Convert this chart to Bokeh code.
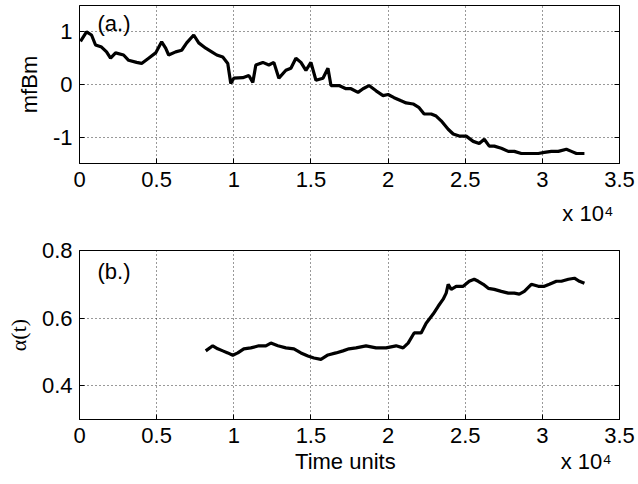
from bokeh.plotting import figure
from bokeh.layouts import column
from bokeh.models import Range1d, FixedTicker, CustomJSTickFormatter, LinearAxis, Label
from bokeh.embed import file_html
from bokeh.resources import INLINE

# --- data (time units) ---
t_mfbm = [65, 455, 779, 1039, 1429, 1753, 2013, 2338, 2857, 3182, 3701, 4026, 4481, 4935,
          5325, 5584, 5779, 6234, 6623, 6948, 7403, 7727, 8182, 8571, 8896, 9286, 9610,
          9805, 10000, 10584, 10974, 11234, 11429, 11883, 12273, 12597, 12922, 13377,
          13701, 14026, 14351, 14675, 15000, 15325, 15779, 16104, 16299, 16818, 17273,
          17597, 18052, 18377, 18766, 19221, 19675, 20000, 20390, 20844, 21169, 21623,
          22013, 22338, 22792, 23117, 23442, 23896, 24221, 24610, 25065, 25519, 25909,
          26234, 26558, 26883, 27338, 27792, 28182, 28636, 29286, 29740, 30130, 30584,
          31039, 31558, 31883, 32208, 32727]
mfbm = [0.82, 1.0, 0.94, 0.75, 0.71, 0.62, 0.50, 0.60, 0.56, 0.46, 0.42, 0.40, 0.50, 0.60,
        0.81, 0.69, 0.56, 0.62, 0.65, 0.79, 0.94, 0.79, 0.69, 0.62, 0.56, 0.52, 0.40,
        0.02, 0.12, 0.13, 0.17, 0.04, 0.37, 0.42, 0.37, 0.42, 0.12, 0.27,
        0.31, 0.50, 0.42, 0.27, 0.42, 0.08, 0.12, 0.31, -0.02, -0.02, -0.08,
        -0.08, -0.15, -0.08, -0.02, -0.12, -0.21, -0.19, -0.25, -0.31, -0.35, -0.37,
        -0.44, -0.56, -0.56, -0.60, -0.69, -0.85, -0.94, -0.98, -0.98, -1.08, -1.12,
        -1.04, -1.17, -1.17, -1.21, -1.27, -1.27, -1.31, -1.31, -1.31, -1.29, -1.27,
        -1.27, -1.23, -1.27, -1.31, -1.31]

t_alpha = [8182, 8636, 8961, 9286, 9610, 9935, 10260, 10649, 11104, 11623, 12078, 12403,
           12857, 13377, 13896, 14351, 14805, 15195, 15649, 16104, 16623, 17078, 17468,
           17922, 18571, 19221, 19870, 20519, 20974, 21299, 21688, 22143, 22468, 22922,
           23247, 23571, 23766, 23896, 24091, 24416, 24870, 25260, 25584, 25844, 26169,
           26494, 26883, 27338, 27792, 28182, 28506, 28831, 29286, 29740, 30130, 30455,
           30909, 31234, 31688, 32078, 32403, 32727]
alpha = [0.503, 0.518, 0.509, 0.503, 0.497, 0.490, 0.497, 0.509, 0.512, 0.518, 0.518, 0.526,
         0.518, 0.512, 0.509, 0.497, 0.488, 0.482, 0.478, 0.491, 0.497, 0.503, 0.509,
         0.512, 0.518, 0.512, 0.512, 0.518, 0.512, 0.526, 0.556, 0.556, 0.585, 0.612,
         0.635, 0.656, 0.674, 0.700, 0.685, 0.694, 0.694, 0.709, 0.715, 0.709, 0.700,
         0.688, 0.685, 0.679, 0.674, 0.674, 0.671, 0.679, 0.700, 0.694, 0.694, 0.700,
         0.709, 0.709, 0.715, 0.718, 0.709, 0.703]

x_ticks = [0, 5000, 10000, 15000, 20000, 25000, 30000, 35000]
y1_ticks = [-1, 0, 1]
y2_ticks = [0.4, 0.6, 0.8]
scale_text = "x 10\u2074"
x_label = "Time units"

NB = "\u00a0"
FONT = "Liberation Sans"
FS = "22px"


def style(p, yticks, yfmt):
    p.background_fill_color = "white"
    p.border_fill_color = "white"
    p.outline_line_color = "black"
    p.outline_line_width = 1
    for ax in p.xaxis + p.yaxis:
        ax.axis_line_color = "black"
        ax.major_tick_line_color = "black"
        ax.major_tick_in = 5
        ax.major_tick_out = 0
        ax.minor_tick_line_color = None
        ax.major_label_text_font = FONT
        ax.major_label_text_font_size = FS
        ax.major_label_text_color = "black"
        ax.axis_label_text_font = FONT
        ax.axis_label_text_font_size = FS
        ax.axis_label_text_font_style = "normal"
        ax.axis_label_text_color = "black"
    p.xaxis.ticker = FixedTicker(ticks=x_ticks)
    p.xaxis.formatter = CustomJSTickFormatter(code="return (tick/1e4).toString();")
    p.xaxis.major_label_standoff = 8
    p.yaxis.ticker = FixedTicker(ticks=yticks)
    p.yaxis.formatter = CustomJSTickFormatter(code=yfmt)
    p.yaxis.major_label_standoff = 7
    p.xgrid.ticker = FixedTicker(ticks=x_ticks)
    p.ygrid.ticker = FixedTicker(ticks=yticks)
    for g in (p.xgrid[0], p.ygrid[0]):
        g.grid_line_color = "black"
        g.grid_line_alpha = 0.8
        g.grid_line_dash = "1 3"
        g.grid_line_width = 1
    # box ticks on right side
    r = LinearAxis(ticker=FixedTicker(ticks=yticks), major_tick_in=5, major_tick_out=0,
                   formatter=CustomJSTickFormatter(code="return '';"),
                   major_label_standoff=0,
                   minor_tick_line_color=None, axis_line_color="black")
    p.add_layout(r, "right")


p1 = figure(width=638, height=232, output_backend="svg", toolbar_location=None,
            x_range=Range1d(0, 35000), y_range=Range1d(-1.5, 1.5),
            min_border_left=79, min_border_right=19, min_border_top=5, min_border_bottom=69)
p1.line(t_mfbm, mfbm, line_color="black", line_width=3.2)
style(p1, y1_ticks, "return tick.toString();")
p1.yaxis[0].axis_label = "mfBm"
p1.yaxis[0].axis_label_standoff = 8
# x10^4 multiplier as the axis label, pushed to the right with no-break spaces
p1.xaxis[0].axis_label = NB * 78 + scale_text
p1.xaxis[0].axis_label_standoff = 11
p1.add_layout(Label(x=1169, y=1.15, text="(a.)", text_baseline="middle",
                    text_font=FONT, text_font_size=FS, text_color="black"))

p2 = figure(width=638, height=252, output_backend="svg", toolbar_location=None,
            x_range=Range1d(0, 35000), y_range=Range1d(0.3, 0.8),
            min_border_left=79, min_border_right=19, min_border_top=18, min_border_bottom=65)
p2.line(t_alpha, alpha, line_color="black", line_width=3.2)
style(p2, y2_ticks, "return tick.toFixed(1);")
p2.yaxis[0].axis_label = "\u03b1(t)"
p2.yaxis[0].axis_label_text_font = "Liberation Serif"
p2.yaxis[0].axis_label_standoff = 8
# axis label carries both the label and the x10^4 multiplier (padded with no-break spaces)
p2.xaxis[0].axis_label = NB * 34 + x_label + NB * 27 + scale_text
p2.xaxis[0].axis_label_standoff = 3
p2.add_layout(Label(x=1169, y=0.738, text="(b.)", text_baseline="middle",
                    text_font=FONT, text_font_size=FS, text_color="black"))

layout = column(p1, p2, spacing=0)
open("out.html", "w").write(file_html(layout, INLINE))
